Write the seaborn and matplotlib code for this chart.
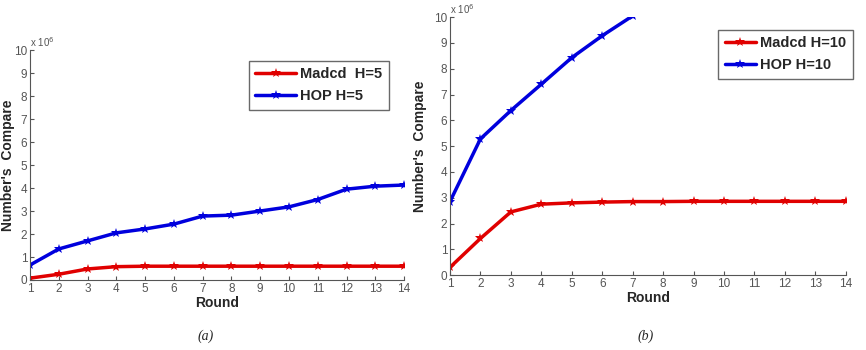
import numpy as np
import pandas as pd
import matplotlib
matplotlib.use("Agg")
import matplotlib.pyplot as plt
import seaborn as sns

# values in units of 10^6
rounds = list(range(1, 15))
madcd_h5 = [0.08, 0.25, 0.48, 0.58, 0.60, 0.60, 0.60, 0.60, 0.60, 0.60, 0.60, 0.60, 0.60, 0.60]
hop_h5 = [0.65, 1.35, 1.70, 2.05, 2.22, 2.43, 2.78, 2.82, 3.00, 3.18, 3.50, 3.95, 4.08, 4.13]

madcd_h10 = [0.30, 1.42, 2.45, 2.75, 2.80, 2.83, 2.85, 2.85, 2.86, 2.86, 2.86, 2.86, 2.86, 2.86]
hop_h10_rounds = [1, 2, 3, 4, 5, 6, 7]
hop_h10 = [2.85, 5.28, 6.38, 7.40, 8.43, 9.28, 10.05]

sns.set_style("ticks")
plt.rcParams['font.family'] = ['Liberation Sans', 'DejaVu Sans']

fig = plt.figure(figsize=(8.66, 3.5), dpi=100)
ax1 = fig.add_axes([0.0346, 0.2, 0.432, 0.657])
ax2 = fig.add_axes([0.5196, 0.214, 0.457, 0.737])

panels = [
    (ax1, rounds, madcd_h5, rounds, hop_h5, "Madcd  H=5", "HOP H=5",
     (0.565, 0.985), 2.8, -0.04),
    (ax2, rounds, madcd_h10, hop_h10_rounds, hop_h10, "Madcd H=10", "HOP H=10",
     (0.66, 0.98), 2.1, -0.058),
]

for ax, xr, yr, xb, yb, lab_r, lab_b, loc, hl, ylx in panels:
    sns.lineplot(x=xr, y=yr, ax=ax, color="#e00000", lw=2.5, marker="*",
                 markersize=7, markeredgewidth=0, label=lab_r)
    sns.lineplot(x=xb, y=yb, ax=ax, color="#0000dd", lw=2.5, marker="*",
                 markersize=7, markeredgewidth=0, label=lab_b)
    ax.set_xlim(1, 14)
    ax.set_ylim(0, 10)
    ax.set_xticks(rounds)
    ax.set_yticks(range(0, 11))
    ax.tick_params(direction="in", length=3, labelsize=8.5, labelcolor="#555555",
                   color="#555555", pad=2)
    for s in ["top", "right"]:
        ax.spines[s].set_visible(False)
    for s in ["left", "bottom"]:
        ax.spines[s].set_color("#555555")
    ax.set_xlabel("Round", fontsize=10, fontweight="bold", labelpad=1)
    ax.set_ylabel("Number's  Compare", fontsize=10, fontweight="bold")
    ax.yaxis.set_label_coords(ylx, 0.5)
    ax.text(0.0, 1.005, "x 10$^6$", transform=ax.transAxes, fontsize=7,
            color="#555555", ha="left", va="bottom")
    leg = ax.legend(loc="upper left", bbox_to_anchor=loc, frameon=True,
                    fancybox=False, edgecolor="#444444", handlelength=hl,
                    handletextpad=0.3, borderpad=0.45, labelspacing=0.55,
                    prop={"weight": "bold", "size": 10.5})
    leg.get_frame().set_linewidth(1.0)

fig.text(0.237, 0.03, "(a)", fontsize=10, style="italic", family="Liberation Serif", ha="center")
fig.text(0.745, 0.03, "(b)", fontsize=10, style="italic", family="Liberation Serif", ha="center")

fig.savefig("out.png", dpi=100)
